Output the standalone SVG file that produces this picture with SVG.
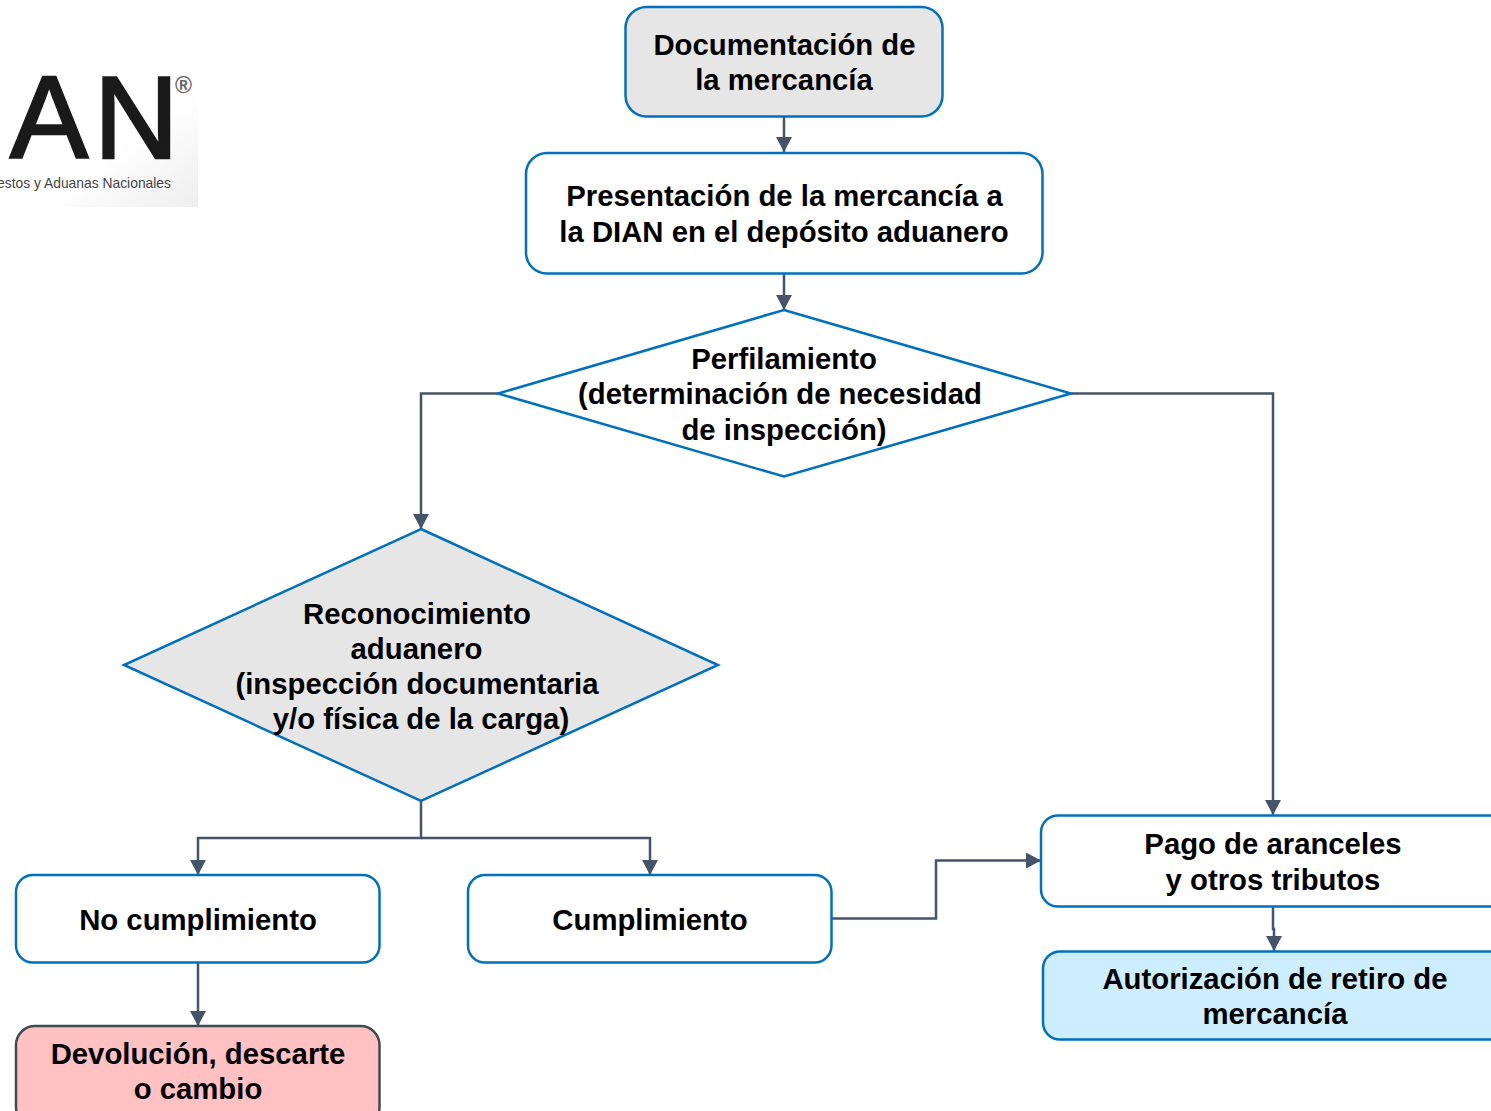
<svg xmlns="http://www.w3.org/2000/svg" width="1491" height="1111" viewBox="0 0 1491 1111">
<style>
.n{stroke:#0070c0;stroke-width:2.5;fill:#fff}
.g{fill:#e6e6e6}
.t{font:bold 29.3px "Liberation Sans",Arial,sans-serif;fill:#000;text-anchor:middle}
.c{fill:none;stroke:#44546a;stroke-width:2.5}
.l{font-family:"Liberation Sans",Arial,sans-serif}
</style>
<defs>
<marker id="a" markerUnits="userSpaceOnUse" markerWidth="16" markerHeight="16" refX="15" refY="8" orient="auto"><path d="M0 0L15 8L0 16Z" fill="#44546a"/></marker>
<linearGradient id="lg" x1="0" y1="0" x2="1" y2="1"><stop offset="0.6" stop-color="#fff"/><stop offset="1" stop-color="#eeeeee"/></linearGradient>
</defs>
<rect width="1491" height="1111" fill="#fff"/>
<g id="logo">
<rect x="0" y="60" width="198" height="147" fill="url(#lg)"/>
<text class="l" x="10" y="158" font-size="117" fill="#1a1a1a" stroke="#1a1a1a" stroke-width="2.5">A</text>
<text class="l" x="94" y="158" font-size="117" fill="#1a1a1a" stroke="#1a1a1a" stroke-width="2.5">N</text>
<text class="l" x="175" y="93" font-size="23" font-weight="bold" fill="#666">®</text>
<text class="l" x="-3" y="188" font-size="15" fill="#444" textLength="174" lengthAdjust="spacingAndGlyphs">estos y Aduanas Nacionales</text>
</g>
<g id="connectors">
<path class="c" marker-end="url(#a)" d="M784 117V152"/>
<path class="c" marker-end="url(#a)" d="M784 274V310"/>
<path class="c" marker-end="url(#a)" d="M498 393.500H421V529"/>
<path class="c" marker-end="url(#a)" d="M1071 393.500H1273V815"/>
<path class="c" marker-end="url(#a)" d="M421 801V838H198V875"/>
<path class="c" marker-end="url(#a)" d="M421 838H650V875"/>
<path class="c" marker-end="url(#a)" d="M198 963V1026"/>
<path class="c" marker-end="url(#a)" d="M832 918.500H936V860.500H1041"/>
<path class="c" marker-end="url(#a)" d="M1273 907V929H1274V951"/>
</g>
<g id="doc"><rect class="n g" x="625.500" y="7" width="317" height="109.500" rx="21"/><text class="t" x="784.500" y="55">Documentación de</text><text class="t" x="784" y="90">la mercancía</text></g>
<g id="presentacion"><rect class="n" x="526" y="153" width="516.500" height="120.500" rx="21"/><text class="t" x="784.500" y="206">Presentación de la mercancía a</text><text class="t" x="784" y="242">la DIAN en el depósito aduanero</text></g>
<g id="perfilamiento"><path class="n" d="M784 310L1071 393.500L784 476.500L498 393.500Z"/><text class="t" x="784" y="369">Perfilamiento</text><text class="t" x="780" y="404">(determinación de necesidad</text><text class="t" x="784" y="440">de inspección)</text></g>
<g id="reconocimiento"><path class="n g" d="M421 529L718 665L421 801L124 665Z"/><text class="t" x="417" y="624">Reconocimiento</text><text class="t" x="416.500" y="659">aduanero</text><text class="t" x="417" y="694">(inspección documentaria</text><text class="t" x="421" y="729">y/o física de la carga)</text></g>
<g id="no"><rect class="n" x="16" y="875" width="363.500" height="87.500" rx="17"/><text class="t" x="198" y="930">No cumplimiento</text></g>
<g id="cumplimiento"><rect class="n" x="468" y="875" width="363.500" height="87.500" rx="17"/><text class="t" x="650" y="930">Cumplimiento</text></g>
<g id="devolucion"><rect class="n" style="fill:#ffc1c1;stroke:#404a50" x="16" y="1026" width="363.500" height="100" rx="19"/><text class="t" x="198" y="1064">Devolución, descarte</text><text class="t" x="198" y="1099">o cambio</text></g>
<g id="pago"><rect class="n" x="1041" y="815.500" width="480" height="91" rx="17"/><text class="t" x="1273" y="854">Pago de aranceles</text><text class="t" x="1273" y="890">y otros tributos</text></g>
<g id="autorizacion"><rect class="n" style="fill:#cceeff" x="1043" y="951.500" width="480" height="88" rx="17"/><text class="t" x="1275" y="989">Autorización de retiro de</text><text class="t" x="1275" y="1024">mercancía</text></g>
</svg>
